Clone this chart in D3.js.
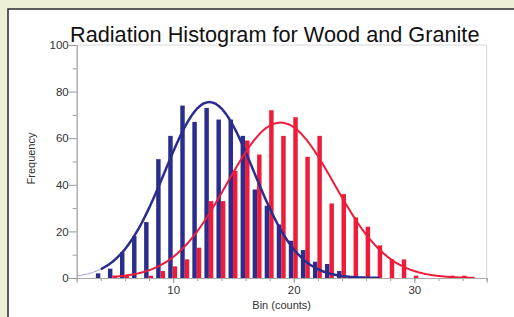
<!DOCTYPE html>
<html>
<head>
<meta charset="utf-8">
<script src="https://cdn.jsdelivr.net/npm/d3@7"></script>
<style>
	body { margin: 0; background: #eef0d6; }
	svg { display: block; }
	text { font-family: "Liberation Sans", Arial, sans-serif; }
</style>
</head>
<body>
<script>
// bins (counts) and frequencies
let woodBins = 	[4, 5, 6, 7, 8, 9, 10, 11, 12, 13, 14, 15, 16, 17, 18, 19, 20, 21, 22, 23, 24]
let woodFreq = 	[2, 4, 11, 18, 24, 51, 61, 74, 67, 73, 68, 68, 61, 38, 31, 23, 16, 12, 7, 6, 3]

let graniteBins = 	[5, 6, 8, 9, 10, 11, 12, 13, 14, 15, 16, 17, 18, 19, 20, 21, 22, 23, 24, 25, 26, 27, 28, 29, 30, 33, 34]
let graniteFreq = 	[1, 1, 1, 3, 5, 8, 13, 33, 33, 46, 59, 53, 72, 61, 69, 52, 61, 32, 36, 26, 22, 14, 8, 8, 1, 1, 1]

// gaussian fits: amplitude, mean, sigma
let woodFit = 	{amp: 75.5, mean: 13.0, sigma: 3.68}
let graniteFit = 	{amp: 66.7, mean: 18.9, sigma: 4.45}

let xMajor = 	[10, 20, 30]
let xMinor = 	d3.range(2, 37, 2)
let yMajor = 	[0, 20, 40, 60, 80, 100]
let yMinor = 	[10, 30, 50, 70, 90]

let W = 514, H = 317
let x0 = 76.7, x1 = 486.7
let y0 = 45, y1 = 278

let svg = d3.select('body').append('svg')
	.attr('width', W).attr('height', H)

// white panel
svg.append('rect')
	.attr('x', 8).attr('y', 9)
	.attr('width', W + 20).attr('height', H + 20)
	.style('fill', 'white').style('stroke', '#2a2a2a').attr('stroke-width', 1.5)

let x = d3.scaleLinear().domain([2, 36]).range([x0, x1])
let y = d3.scaleLinear().domain([0, 100]).range([y1, y0])

// frame
svg.append('line')
	.attr('x1', x0).attr('x2', x1).attr('y1', y0).attr('y2', y0)
	.style('stroke', '#d8d8d8').attr('stroke-width', 1)
svg.append('line')
	.attr('x1', x1).attr('x2', x1).attr('y1', y0).attr('y2', y1)
	.style('stroke', '#d8d8d8').attr('stroke-width', 1)

// bars
let bw = 0.37
svg.append('g').selectAll('rect')
	.data(woodBins.map((b, i) => [b, woodFreq[i]]))
	.join('rect')
	.attr('x', d => x(d[0] - 0.41)).attr('width', x(2 + bw) - x(2))
	.attr('y', d => y(d[1])).attr('height', d => y(0) - y(d[1]))
	.style('fill', '#2b2d8e')
svg.append('g').selectAll('rect')
	.data(graniteBins.map((b, i) => [b, graniteFreq[i]]))
	.join('rect')
	.attr('x', d => x(d[0] - 0.04)).attr('width', x(2 + bw) - x(2))
	.attr('y', d => y(d[1])).attr('height', d => y(0) - y(d[1]))
	.style('fill', '#ee1c3a')

// fit curves
let gauss = (f, v) => f.amp * Math.exp(-((v - f.mean) ** 2) / (2 * f.sigma ** 2))
let line = d3.line().x(d => x(d[0])).y(d => y(d[1])).curve(d3.curveBasis)
let curve = (f, a, b) => d3.range(a, b + 0.001, 0.1).map(v => [v, gauss(f, v)])

svg.append('path').attr('d', line(curve(woodFit, 2, 4)))
	.style('fill', 'none').style('stroke', '#9a9ad8').attr('stroke-width', 1)
svg.append('path').attr('d', line(curve(woodFit, 4, 27.1)))
	.style('fill', 'none').style('stroke', '#2b2d8e').attr('stroke-width', 2.5)
svg.append('path').attr('d', line(curve(graniteFit, 5, 35)))
	.style('fill', 'none').style('stroke', '#ee1c3a').attr('stroke-width', 2)

// axes
let xAxis = svg.append('g').attr('transform', `translate(0,${y1})`)
xAxis.call(d3.axisBottom(x).tickValues(xMinor).tickSize(3).tickFormat(''))
xAxis.append('g').call(d3.axisBottom(x).tickValues(xMajor).tickSize(5).tickFormat(d3.format('d')))
let yAxis = svg.append('g').attr('transform', `translate(${x0},0)`)
yAxis.call(d3.axisLeft(y).tickValues(yMinor).tickSize(4).tickFormat(''))
yAxis.append('g').call(d3.axisLeft(y).tickValues(yMajor).tickSize(8).tickFormat(d3.format('d')))

svg.selectAll('.domain').style('stroke', '#aaa')
svg.selectAll('.tick line').style('stroke', '#999')
svg.selectAll('.tick text').style('fill', '#333').style('font-size', '11.5px')
	.style('font-family', '"Liberation Sans", Arial, sans-serif')
yAxis.selectAll('.tick text').attr('x', -8)

// texts
svg.append('text')
	.attr('x', 70).attr('y', 41.5)
	.style('font-size', '21.7px').style('fill', '#111')
	.text('Radiation Histogram for Wood and Granite')
svg.append('text')
	.attr('x', (x0 + x1) / 2).attr('y', 309)
	.attr('text-anchor', 'middle')
	.style('font-size', '11px').style('fill', '#333')
	.text('Bin (counts)')
svg.append('text')
	.attr('transform', `translate(35,${(y0 + y1) / 2 - 3}) rotate(-90)`)
	.attr('text-anchor', 'middle')
	.style('font-size', '11px').style('fill', '#333')
	.text('Frequency')
</script>
</body>
</html>
